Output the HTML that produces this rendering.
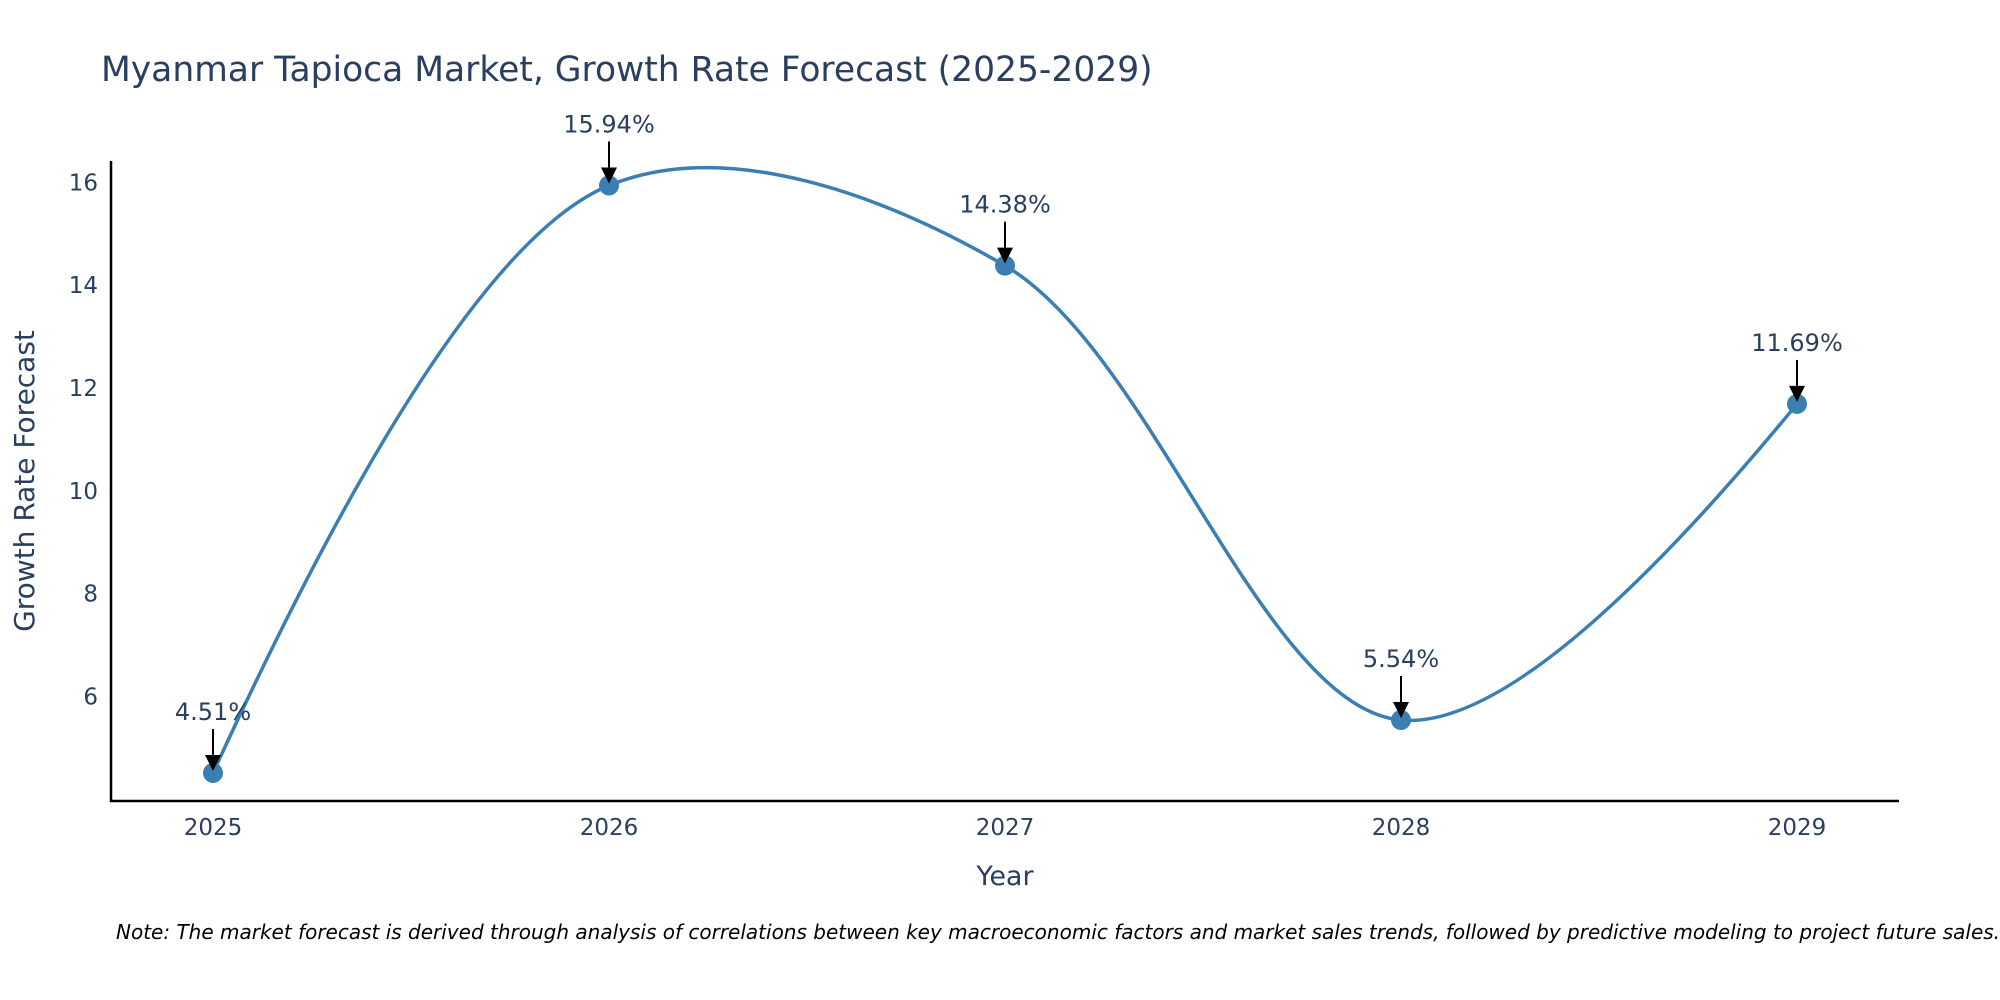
<!DOCTYPE html>
<html><head><meta charset="utf-8"><style>
html,body{margin:0;padding:0;background:#fff;}
svg{display:block;font-family:"DejaVu Sans","Liberation Sans",sans-serif;}
</style></head><body>
<svg id="chart" width="2000" height="1000" xmlns="http://www.w3.org/2000/svg">
<text x="101" y="81" font-size="34.5" fill="#2a3f5f">Myanmar Tapioca Market, Growth Rate Forecast (2025-2029)</text>
<g id="axes"></g>
<g id="marks"></g>
<text x="1005" y="885" font-size="27" fill="#2a3f5f" text-anchor="middle">Year</text>
<text transform="translate(34,481) rotate(-90)" font-size="28" fill="#2a3f5f" text-anchor="middle">Growth Rate Forecast</text>
<text x="116" y="939" font-size="20" font-style="italic" fill="#000">Note: The market forecast is derived through analysis of correlations between key macroeconomic factors and market sales trends, followed by predictive modeling to project future sales.</text>
</svg>
<script>
const years = ["2025","2026","2027","2028","2029"];
const values = [4.51, 15.94, 14.38, 5.54, 11.69];
const yTicks = [6, 8, 10, 12, 14, 16];

const NS = "http://www.w3.org/2000/svg";
const xPos = i => 213 + i * (1797 - 213) / 4;
const yPos = v => 696.4 - (v - 6) * 51.4;
function mk(tag, attrs, parent){const e=document.createElementNS(NS,tag);for(const k in attrs)e.setAttribute(k,attrs[k]);parent.appendChild(e);return e;}
const axes = document.getElementById('axes'), marks = document.getElementById('marks');

let yl = mk('line',{x1:111,y1:161,x2:111,y2:802,stroke:'#000','stroke-width':2.5},axes);


let xl = mk('line',{x1:110,y1:801,x2:1899,y2:801,stroke:'#000','stroke-width':2.5},axes);



yTicks.forEach(t=>{
  const e = mk('text',{x:98,y:yPos(t)+8,'font-size':23,fill:'#2a3f5f','text-anchor':'end'},axes);
  e.textContent = t;
  
  
});
years.forEach((y,i)=>{
  const e = mk('text',{x:xPos(i),y:835,'font-size':23,fill:'#2a3f5f','text-anchor':'middle'},axes);
  e.textContent = y;
  
  
});

const pts = values.map((v,i)=>[xPos(i),yPos(v)]);
function tangent(p0,p1,p2,s){
  const d1x=p0[0]-p1[0],d1y=p0[1]-p1[1],d2x=p2[0]-p1[0],d2y=p2[1]-p1[1];
  const d1a=Math.pow(d1x*d1x+d1y*d1y,0.25),d2a=Math.pow(d2x*d2x+d2y*d2y,0.25);
  const nx=(d2a*d2a*d1x-d1a*d1a*d2x)*s,ny=(d2a*d2a*d1y-d1a*d1a*d2y)*s;
  const den1=3*d2a*(d1a+d2a),den2=3*d1a*(d1a+d2a);
  return [[p1[0]+nx/den1,p1[1]+ny/den1],[p1[0]-nx/den2,p1[1]-ny/den2]];
}
const tg=[];
for(let i=1;i<pts.length-1;i++) tg.push(tangent(pts[i-1],pts[i],pts[i+1],1));
let d='M'+pts[0]+'Q'+tg[0][0]+' '+pts[1];
for(let i=2;i<pts.length-1;i++) d+='C'+tg[i-2][1]+' '+tg[i-1][0]+' '+pts[i];
d+='Q'+tg[tg.length-1][1]+' '+pts[pts.length-1];
const line = mk('path',{d:d,fill:'none',stroke:'#3b7fb2','stroke-width':3.5},marks);



pts.forEach((p,i)=>{
  const c = mk('circle',{cx:p[0],cy:p[1],r:10,fill:'#3b7fb2'},marks);
  
  
  const a = mk('line',{x1:p[0],y1:p[1]-44,x2:p[0],y2:p[1]-16,stroke:'#000','stroke-width':2},marks);
  
  
  const h = mk('path',{d:`M${p[0]-8},${p[1]-18}L${p[0]+8},${p[1]-18}L${p[0]},${p[1]-2}Z`,fill:'#000'},marks);
  
  
  const t = mk('text',{x:p[0],y:p[1]-53,'font-size':24,fill:'#2a3f5f','text-anchor':'middle'},marks);
  t.textContent = values[i].toFixed(2)+'%';
  
  
});
</script>
</body></html>
